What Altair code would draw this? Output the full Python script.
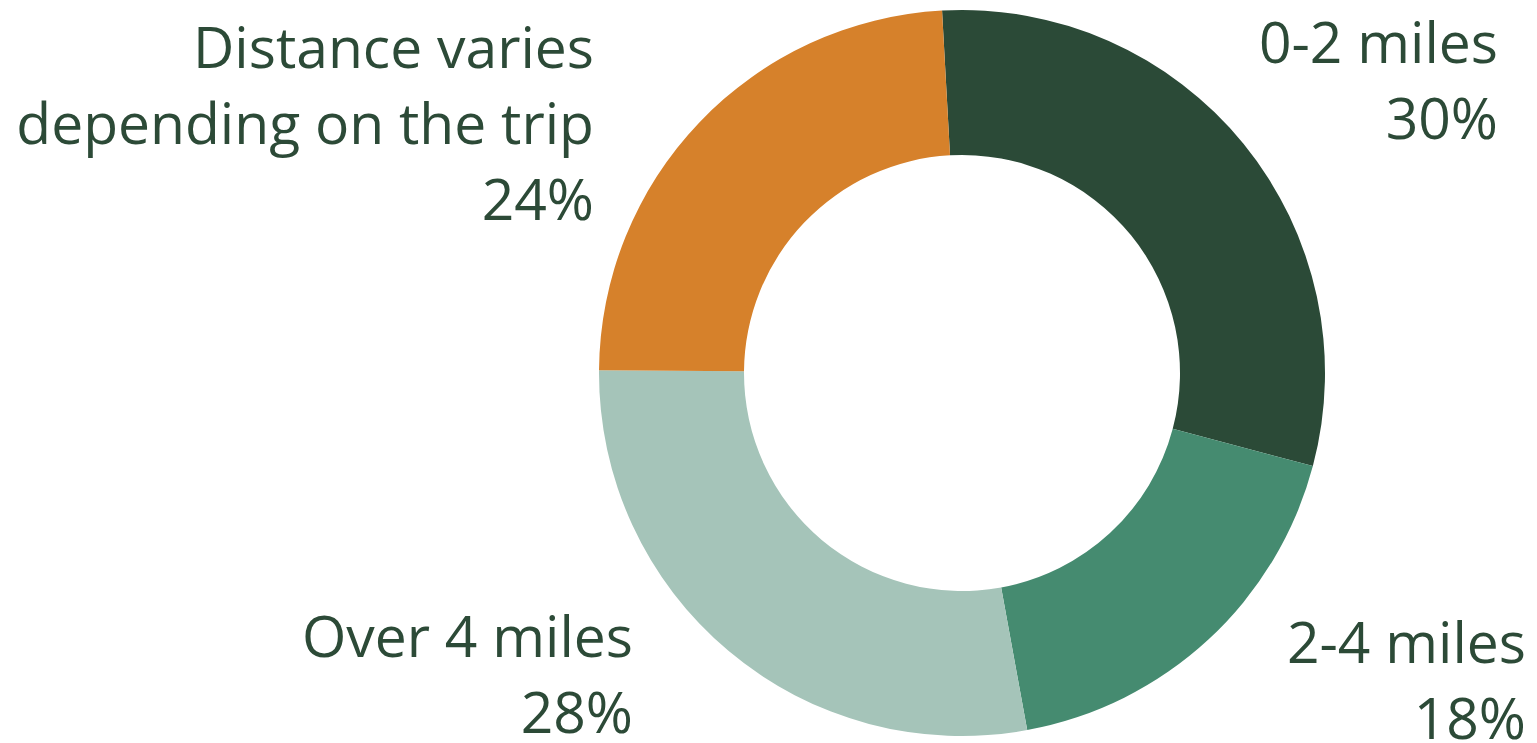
import math
import altair as alt
import pandas as pd

# ---- data ----
categories = ["0-2 miles", "2-4 miles", "Over 4 miles", "Distance varies depending on the trip"]
values = [30, 18, 28, 24]
colors = ["#2b4a37", "#458b70", "#a5c4b9", "#d6812b"]

# ---- layout (label wrapping and anchor positions, in pixels) ----
label_lines = {
    "0-2 miles": ["0-2 miles"],
    "2-4 miles": ["2-4 miles"],
    "Over 4 miles": ["Over 4 miles"],
    "Distance varies depending on the trip": ["Distance varies\u00a0", "depending on the trip"],
}
label_anchor = {
    "0-2 miles": (1490, 55),
    "2-4 miles": (1518, 655),
    "Over 4 miles": (625, 649),
    "Distance varies depending on the trip": (586, 60),
}
W, H = 1521, 735
CX, CY = 954, 365
R_OUT, R_IN = 363, 218
START = -3.15 * math.pi / 180
TEXT_COLOR = "#2c4a37"
FONT = "Open Sans"
FONT_SIZE = 57
LINE_H = 76

df = pd.DataFrame({"cat": categories, "value": values, "idx": list(range(len(categories)))})

lab = pd.DataFrame({
    "cat": categories,
    "label": ["\n".join(label_lines[c] + [f"{v}%"]) for c, v in zip(categories, values)],
    "lx": [label_anchor[c][0] for c in categories],
    "ly": [label_anchor[c][1] for c in categories],
})

arc = alt.Chart(df).mark_arc(radius=R_OUT, radius2=R_IN, strokeWidth=0).encode(
    theta=alt.Theta("value:Q", stack=True,
                    scale=alt.Scale(domain=[0, sum(values)], range=[START, START + 2 * math.pi])),
    color=alt.Color("cat:N", scale=alt.Scale(domain=categories, range=colors), legend=None),
    order=alt.Order("idx:Q"),
    x=alt.value(CX),
    y=alt.value(CY),
)

text = alt.Chart(lab).mark_text(
    align="right", baseline="alphabetic", font=FONT, fontSize=FONT_SIZE,
    lineHeight=LINE_H, color=TEXT_COLOR, lineBreak="\n",
).encode(
    x=alt.X("lx:Q", scale=None, axis=None),
    y=alt.Y("ly:Q", scale=None, axis=None),
    text="label:N",
)

chart = alt.layer(arc, text).properties(
    width=W, height=H, padding=0,
    autosize=alt.AutoSizeParams(type="fit", contains="padding"),
).configure_view(strokeWidth=0)

chart.save("out.html", embed_options={"renderer": "svg", "actions": False})
